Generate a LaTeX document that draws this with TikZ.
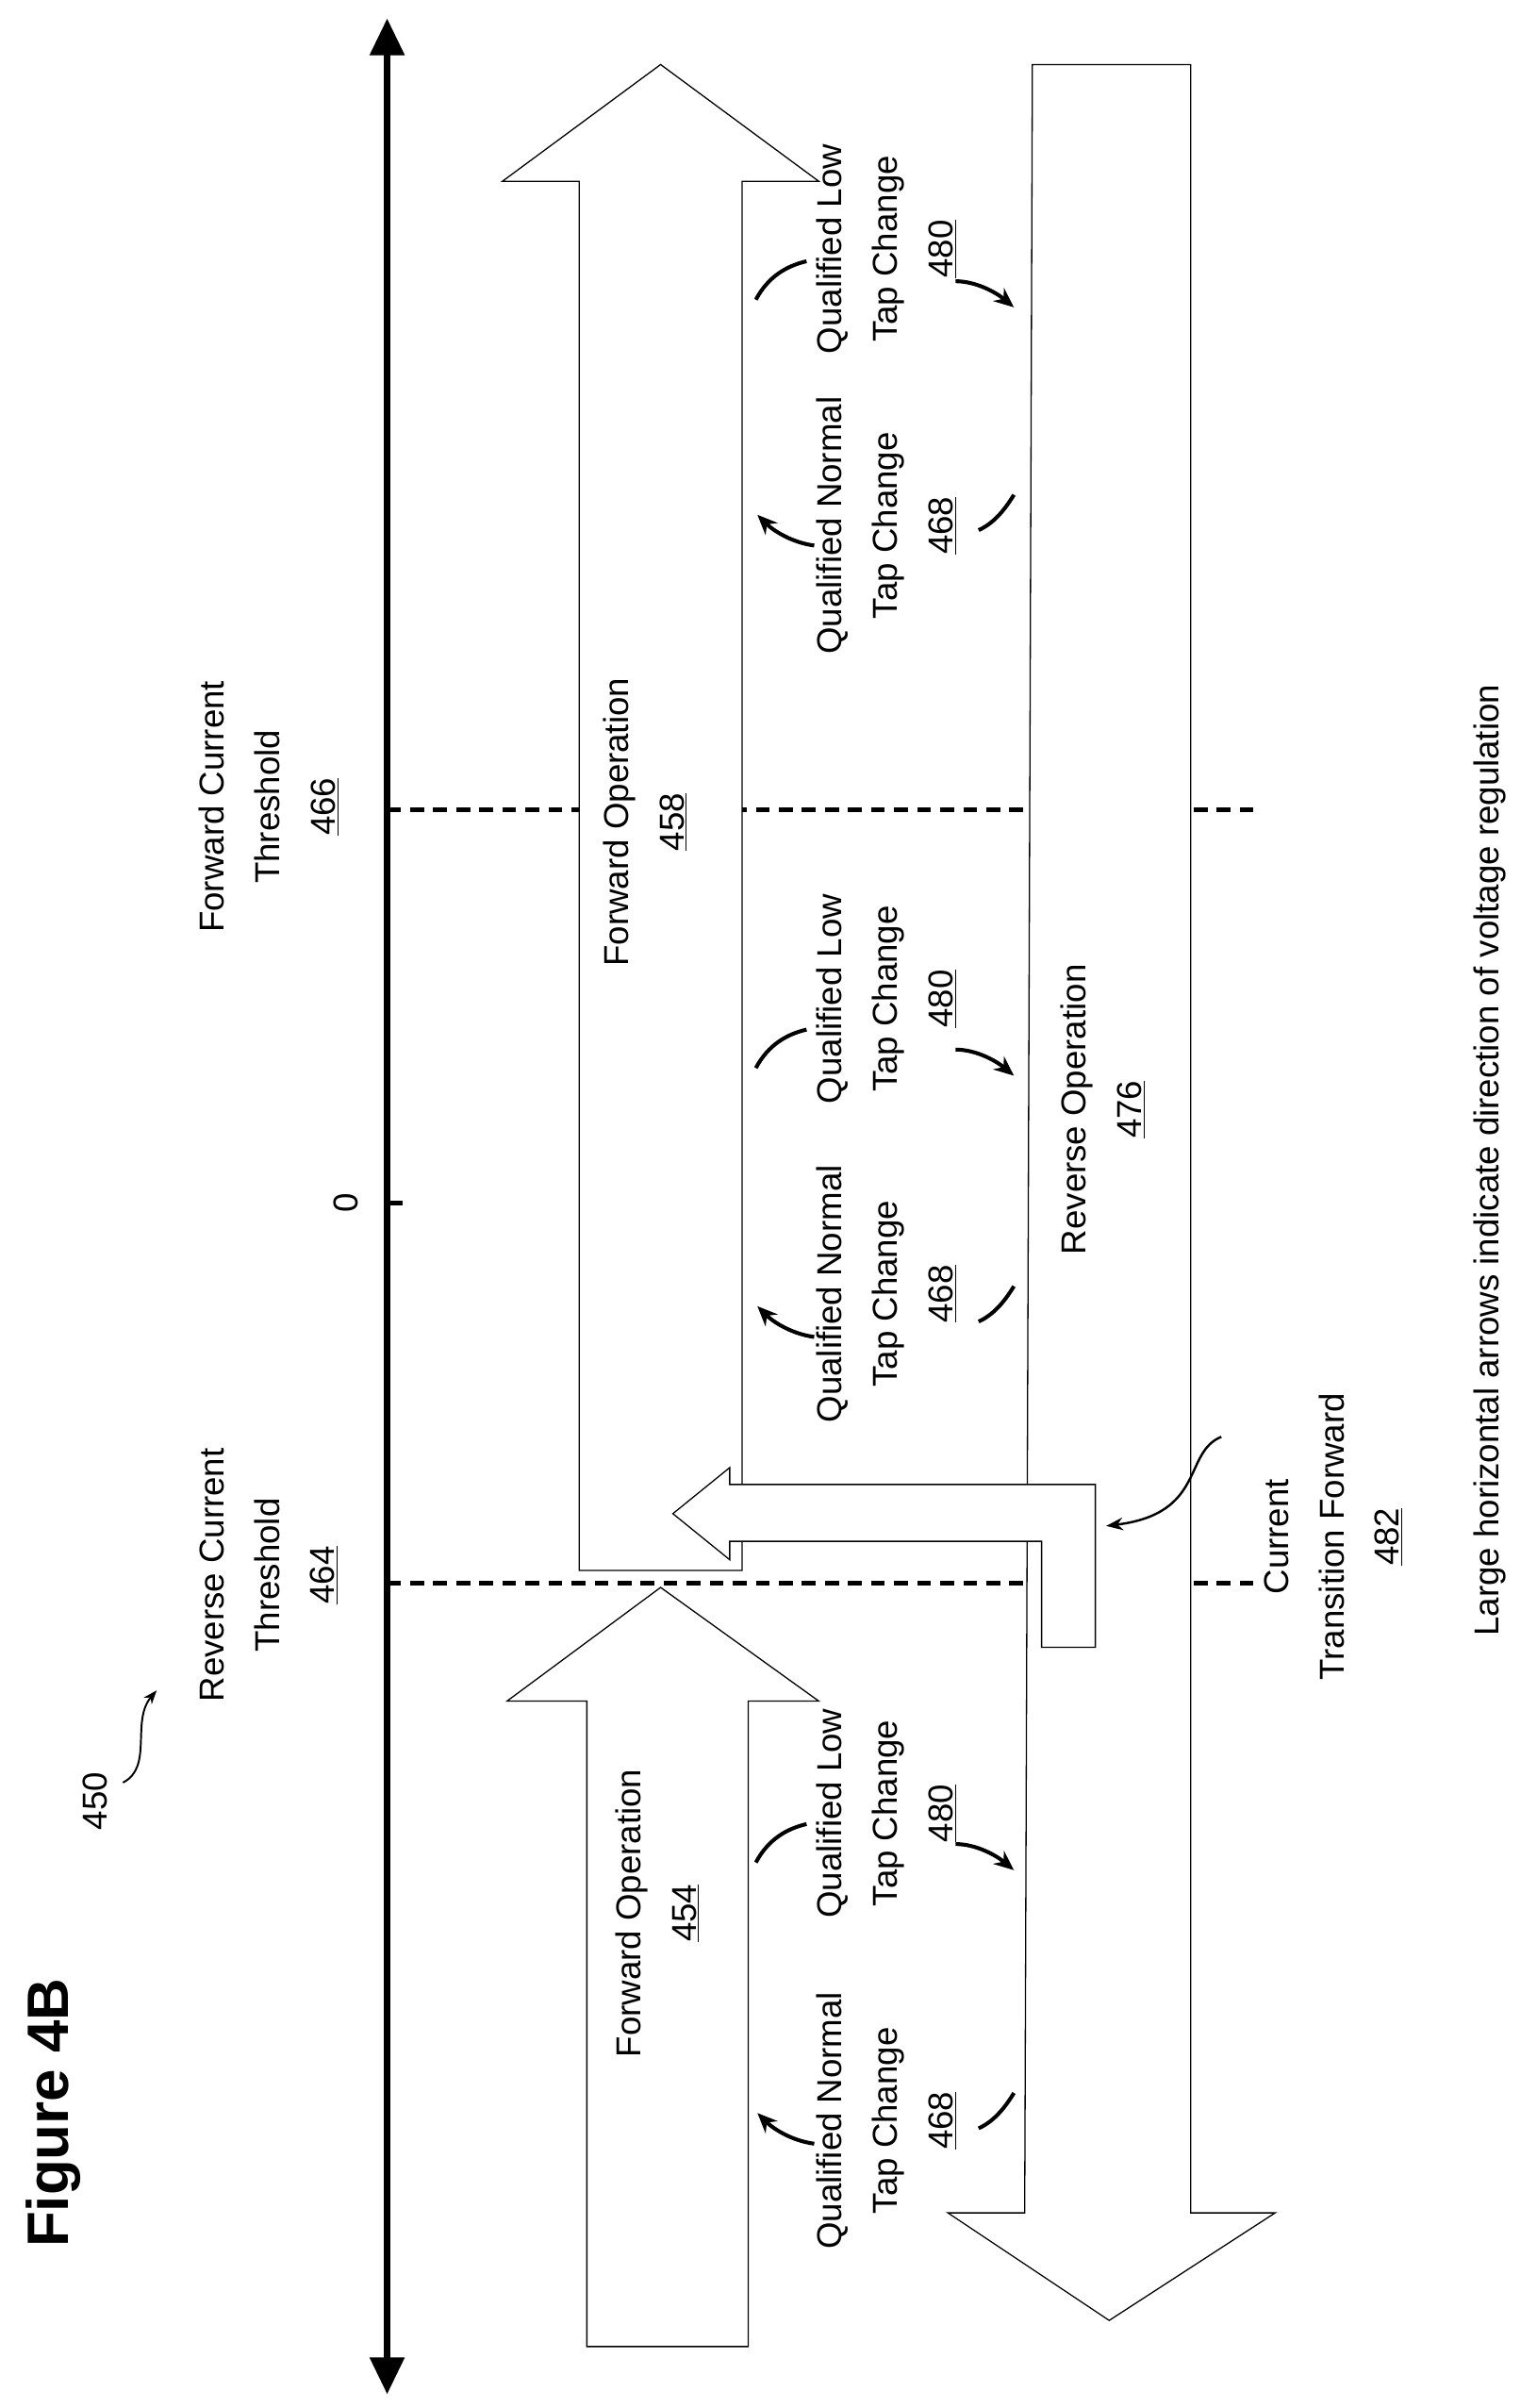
\documentclass[tikz,border=0pt]{standalone}
\usepackage{fontspec}
\setmainfont{Liberation Sans}
\usetikzlibrary{arrows.meta}
\begin{document}
\begin{tikzpicture}[x=1pt,y=-1pt,
  lbl/.style={rotate=90,align=center,font=\fontsize{22.5}{36}\selectfont},
  big/.style={draw=black,line width=0.8pt,fill=white},
  thr/.style={line width=3pt,dash pattern=on 9pt off 6pt},
  small/.style={line width=2.5pt,-{Stealth[length=13pt,width=11pt]}},
  tailarc/.style={line width=2.5pt}]
\useasboundingbox (0,0) rectangle (1000,1567);
% dashed thresholds
\draw[thr] (252,527) -- (820,527);
\draw[thr] (252,1030) -- (820,1030);
% axis
\coordinate (atop) at (252,12);
\coordinate (abot) at (252,1558);
\draw[line width=4pt,{Triangle[length=24pt,width=22pt]}-{Triangle[length=24pt,width=22pt]}] (atop) -- (abot);
\draw[line width=3pt] (252,783) -- (262,783);
% big arrows
\draw[big] (377,1022) -- (377,118) -- (327,118) -- (430,42) -- (533,118) -- (483,118) -- (483,1022) -- cycle;
\draw[big] (382,1527) -- (382,1107) -- (330,1107) -- (430,1033) -- (533,1107) -- (487,1107) -- (487,1527) -- cycle;
\draw[big] (672,42) -- (775,42) -- (775,1440) -- (830,1440) -- (722,1510) -- (617,1440) -- (667,1440) -- cycle;
\draw[big] (713,966) -- (713,1072) -- (678,1072) -- (678,1003) -- (475,1003) -- (475,1015) -- (438,985) -- (475,955) -- (475,966) -- cycle;
% texts
\node[rotate=90,font=\bfseries\fontsize{38}{40}\selectfont] (fig) at (35,1375) {Figure 4B};
\node[lbl] (n450) at (62,1172) {450};
\coordinate (a450) at (102,1100);
\draw[line width=1.2pt,-{Stealth[length=9pt]}] (80,1160) .. controls (100,1150) and (85,1120) .. (a450);
\node[lbl] (rct) at (175,1025) {Reverse Current\\Threshold\\\underline{464}};
\node[lbl] (fct) at (175,525) {Forward Current\\Threshold\\\underline{466}};
\node[lbl] (zero) at (225,783) {0};
\node[lbl] (fo458) at (420,535) {Forward Operation\\\underline{458}};
\node[lbl] (fo454) at (428,1245) {Forward Operation\\\underline{454}};
\node[lbl] (ro476) at (718,722) {Reverse Operation\\\underline{476}};
\foreach \n/\y/\ay in {a/162/155,b/650/655,c/1180/1172}{
  \node[lbl] (low\n) at (577,\y) {Qualified Low\\Tap Change\\\underline{480}};
  \draw[tailarc] (492,\ay+40) .. controls (500,\ay+25) and (512,\ay+18) .. (525,\ay+15);
  \draw[small] (622,\ay+28) .. controls (635,\ay+28) and (648,\ay+35) .. (660,\ay+45);
}
\foreach \n/\y/\ay in {a/342/320,b/842/835,c/1380/1360}{
  \node[lbl] (nor\n) at (577,\y) {Qualified Normal\\Tap Change\\\underline{468}};
  \draw[small] (530,\ay+35) .. controls (515,\ay+33) and (503,\ay+25) .. (493,\ay+15);
  \draw[tailarc] (637,\ay+25) .. controls (648,\ay+20) and (655,\ay+10) .. (660,\ay+2);
}
\node[lbl] (ctf) at (868,1000) {Current\\Transition Forward\\\underline{482}};
\draw[line width=1.5pt,-{Stealth[length=11pt]}] (795,935) .. controls (770,945) and (785,985) .. (720,993);
\node[lbl] (note) at (970,755) {Large horizontal arrows indicate direction of voltage regulation};
\end{tikzpicture}
\end{document}
